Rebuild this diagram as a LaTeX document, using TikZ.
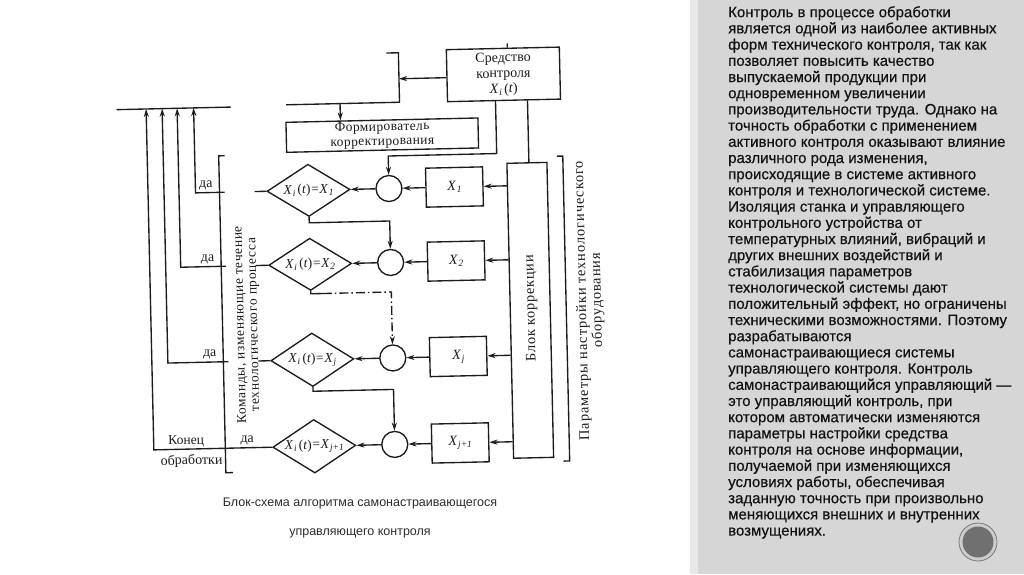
\documentclass[tikz,border=0pt]{standalone}
\usepackage{fontspec}
\setmainfont{Liberation Serif}
\newfontfamily\panelfont[FakeBold=0.4]{Liberation Sans}
\newfontfamily\capfont{Liberation Sans}
\usetikzlibrary{arrows.meta,shapes.geometric}
\definecolor{ink}{RGB}{28,28,28}
\definecolor{panelbg}{RGB}{214,214,214}
\definecolor{panelstrip}{RGB}{232,232,232}
\definecolor{paneltext}{RGB}{18,18,18}
\definecolor{captext}{RGB}{45,45,45}
\newcommand{\Xv}[1]{\textit{X}\kern0.03em\raisebox{-0.35ex}{\fontsize{9.5}{9.5}\selectfont\textit{#1}}}
\newcommand{\Xeq}[1]{\makebox[40pt][c]{\Xv{i}\,(\textit{t})\kern0.05em=\kern0.05em\Xv{#1}}}
\begin{document}
\begin{tikzpicture}[x=1pt,y=-1pt,
  ln/.style={line width=1.35pt, draw=ink},
  arr/.style={ln, -{Stealth[length=8pt,width=5pt]}},
  dashdotline/.style={line width=1.35pt, draw=ink, dash pattern=on 9pt off 3pt on 1.5pt off 3pt},
  rbox/.style={draw=ink, line width=1.35pt, rectangle, inner sep=0pt, align=center, text=ink,
    font=\fontsize{14}{15.5}\selectfont},
  dia/.style={draw=ink, line width=1.35pt, diamond, minimum width=83pt, minimum height=48pt,
    inner sep=0pt, text=ink, font=\fontsize{13.5}{14}\selectfont},
  sumc/.style={draw=ink, line width=1.35pt, circle, minimum size=26pt, inner sep=0pt},
  lbl/.style={inner sep=0pt, text=ink, font=\fontsize{14}{14}\selectfont},
]
\useasboundingbox (0,0) rectangle (1024,574);
\fill[white] (0,0) rectangle (1024,574);
\fill[panelstrip] (690,0) rectangle (698,574);
\fill[panelbg] (698,0) rectangle (1024,574);

% panel text
\node[anchor=north west, inner sep=0pt, align=left, text=paneltext,
  font=\panelfont\fontsize{15}{16.2}\selectfont] (ptext) at (728,6)
{Контроль в процессе обработки\\
является одной из наиболее активных\\
форм технического контроля, так как\\
позволяет повысить качество\\
выпускаемой продукции при\\
одновременном увеличении\\
производительности труда. Однако на\\
точность обработки с применением\\
активного контроля оказывают влияние\\
различного рода изменения,\\
происходящие в системе активного\\
контроля и технологической системе.\\
Изоляция станка и управляющего\\
контрольного устройства от\\
температурных влияний, вибраций и\\
других внешних воздействий и\\
стабилизация параметров\\
технологической системы дают\\
положительный эффект, но ограничены\\
техническими возможностями. Поэтому\\
разрабатываются\\
самонастраивающиеся системы\\
управляющего контроля. Контроль\\
самонастраивающийся управляющий —\\
это управляющий контроль, при\\
котором автоматически изменяются\\
параметры настройки средства\\
контроля на основе информации,\\
получаемой при изменяющихся\\
условиях работы, обеспечивая\\
заданную точность при произвольно\\
меняющихся внешних и внутренних\\
возмущениях.};

% slide number badge
\node[circle, fill={rgb,255:red,205;green,205;blue,205}, draw={rgb,255:red,120;green,120;blue,120},
  line width=0.8pt, minimum size=38pt, inner sep=0pt] (badge) at (978,542) {};
\node[circle, fill={rgb,255:red,112;green,112;blue,112}, minimum size=31pt, inner sep=0pt] (badgein) at (badge) {};

% caption
\node[anchor=north, inner sep=0pt, align=center, text=captext,
  font=\capfont\fontsize{12.5}{28.5}\selectfont] (cap) at (360,498)
{Блок-схема алгоритма самонастраивающегося\\управляющего контроля};

\begin{scope}[rotate around={1.3:(390,300)}, transform shape]
% top command bus
\coordinate (tl) at (121,103.5);
\coordinate (tr) at (235,103.5);
\draw[ln] (tl) -- (tr);

% main blocks
\node[rbox, minimum width=113pt, minimum height=52pt] (sk) at (508.5,77)
  {Средство\\контроля\\\Xv{i}\,(\textit{t})};
\node[rbox, minimum width=192pt, minimum height=30pt,
  font=\fontsize{13.5}{14.5}\selectfont\addfontfeatures{LetterSpace=3}] (fk) at (386,135)
  {Формирователь\\корректирования};
\node[rbox, minimum width=40pt, minimum height=295pt] (blk) at (530,313.5) {};
\node[lbl, rotate=90, font=\fontsize{14.5}{14.5}\selectfont\addfontfeatures{LetterSpace=5}] (blkt) at (531,311.5) {Блок коррекции};

% rows
\node[dia] (d1) at (311,188.5) {\Xeq{1}};
\node[dia] (d2) at (311,262.5) {\Xeq{2}};
\node[dia] (d3) at (311,358) {\Xeq{j}};
\node[dia] (d4) at (311,444.5) {\Xeq{j+1}};
\node[sumc] (c1) at (391.5,188.5) {};
\node[sumc] (c2) at (391.5,262.5) {};
\node[sumc] (c3) at (391.5,358) {};
\node[sumc] (c4) at (391.5,444.5) {};
\node[rbox, minimum width=57pt, minimum height=39pt] (x1) at (457,188.5) {\Xv{1}};
\node[rbox, minimum width=57pt, minimum height=39pt] (x2) at (457,262.5) {\Xv{2}};
\node[rbox, minimum width=57pt, minimum height=39pt] (x3) at (457,358) {\Xv{j}};
\node[rbox, minimum width=57pt, minimum height=39pt] (x4) at (457,444.5) {\Xv{j+1}};

\foreach \i in {1,2,3,4}{
  \draw[arr] (blk.west |- x\i) -- (x\i.east);
  \draw[arr] (x\i) -- (c\i);
  \draw[arr] (c\i) -- (d\i);
}

% "yes" exits
\coordinate (a1) at (198,188.5);
\coordinate (a2) at (181.5,262.5);
\coordinate (a3) at (166.5,358);
\coordinate (a4) at (150.5,444.5);
\foreach \i in {1,2,3}{
  \draw[ln] (d\i.west) -- (d\i.west -| 257,0);
  \draw[arr] (d\i.west -| 227,0) -- (a\i) -- (a\i |- tl);
}
\draw[arr] (d4.west) -- (a4) -- (a4 |- tl);

\node[lbl] (y1) at (208.5,181) {да};
\node[lbl] (y2) at (208.5,255) {да};
\node[lbl] (y3) at (208.5,350.5) {да};
\node[lbl] (y4) at (244,437) {да};
\node[lbl, font=\fontsize{13.5}{13.5}\selectfont] (kon) at (183,436.5) {Конец};
\node[lbl] (obr) at (188,456.5) {обработки};

% "no" transitions
\coordinate (k1) at (311,221);
\draw[arr] (d1.south) -- (k1) -- (k1 -| c2) -- (c2.north);
\coordinate (k2) at (311,292);
\coordinate (k2b) at (323,292);
\draw[ln] (d2.south) -- (k2) -- (k2b);
\draw[dashdotline, -{Stealth[length=8pt,width=5pt]}] (k2b) -- (k2b -| c3) -- (c3.north);
\coordinate (k3) at (311,389.5);
\draw[arr] (d3.south) -- (k3) -- (k3 -| c4) -- (c4.north);

% measuring device connections
\coordinate (bx) at (404,79);
\draw[arr] (sk.west |- bx) -- (bx);
\coordinate (b1) at (392,53);
\coordinate (b2) at (404,53);
\coordinate (b3) at (404,102.5);
\coordinate (b4) at (290.5,102.5);
\draw[ln] (b1) -- (b2) -- (b3) -- (b4);
\coordinate (fa) at (344.5,102.5);
\draw[arr] (fa) -- (fa |- fk.north);
\coordinate (s1) at (500,156);
\draw[arr] (sk.south -| s1) -- (s1) -- (s1 -| c1) -- (c1.north);
\coordinate (s2) at (532,120);
\draw[ln] (sk.south -| s2) -- (blk.north -| s2);
\coordinate (st) at (513,46);
\draw[ln] (st) -- (st |- sk.north);

% brackets and side labels
\draw[ln] (228,152) -- (222,152) -- (222,469) -- (229,469);
\draw[ln] (560,160) -- (566,160) -- (566,465) -- (560,465);
\node[lbl, rotate=90, align=center,
  font=\fontsize{13.5}{13.5}\selectfont\addfontfeatures{LetterSpace=5}] (cmd) at (247,321.5)
  {Команды, изменяющие течение\\технологического процесса};
\node[lbl, rotate=90, align=center,
  font=\fontsize{14.5}{15}\selectfont\addfontfeatures{LetterSpace=6}] (par) at (590,305)
  {Параметры настройки технологического\\оборудования};
\end{scope}
\end{tikzpicture}
\end{document}
